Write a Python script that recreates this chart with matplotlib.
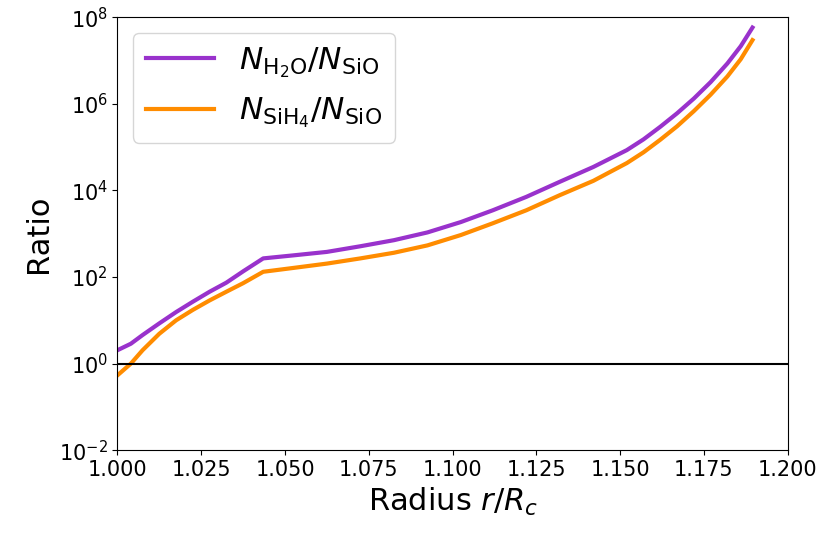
import matplotlib
matplotlib.use('Agg')
import matplotlib.pyplot as plt
import matplotlib.ticker as ticker

# radius r/R_c
radius = [1.000, 1.004, 1.0075, 1.0125, 1.0175, 1.0225, 1.0275, 1.0325, 1.0375,
          1.0435, 1.0525, 1.0625, 1.0725, 1.0825, 1.0925, 1.1025, 1.112, 1.122,
          1.132, 1.142, 1.152, 1.157, 1.162, 1.167, 1.172, 1.177, 1.182, 1.186, 1.1895]

# N_H2O / N_SiO
ratio_h2o = [2.04, 2.88, 4.57, 8.51, 15.5, 26.9, 45.7, 74.1, 135,
             269, 316, 380, 513, 708, 1070, 1860, 3470, 7080,
             15800, 34700, 85100, 1.51e5, 2.95e5, 6.03e5, 1.32e6, 3.16e6, 8.51e6, 2.14e7, 5.75e7]

# N_SiH4 / N_SiO
ratio_sih4 = [0.537, 1.00, 2.04, 4.90, 10.0, 17.4, 28.8, 45.7, 72.0,
              132, 162, 204, 269, 363, 537, 933, 1740, 3470,
              7760, 16600, 42700, 7.59e4, 1.48e5, 3.02e5, 6.76e5, 1.62e6, 4.27e6, 1.07e7, 2.95e7]

fig = plt.figure(figsize=(8.3, 5.36), dpi=100)
ax = fig.add_axes([0.1415, 0.160, 0.8075, 0.808])

ax.plot(radius, ratio_h2o, color='darkorchid', lw=3,
        label=r'$N_{\rm H_2O}/N_{\rm SiO}$')
ax.plot(radius, ratio_sih4, color='darkorange', lw=3,
        label=r'$N_{\rm SiH_4}/N_{\rm SiO}$')
ax.axhline(1.0, color='black', lw=1.5)

ax.set_yscale('log')
ax.set_xlim(1.0, 1.2)
ax.set_ylim(1e-2, 1e8)
ax.set_xticks([1.000, 1.025, 1.050, 1.075, 1.100, 1.125, 1.150, 1.175, 1.200])
ax.xaxis.set_major_formatter(ticker.FormatStrFormatter('%.3f'))
ax.yaxis.set_major_locator(ticker.FixedLocator([1e-2, 1e0, 1e2, 1e4, 1e6, 1e8]))
ax.yaxis.set_minor_locator(ticker.NullLocator())
ax.tick_params(labelsize=15)

ax.set_xlabel(r'Radius $r/R_c$', fontsize=22)
ax.set_ylabel('Ratio', fontsize=22)
ax.legend(loc='upper left', fontsize=22.5, handlelength=2.2)

fig.savefig('out.png', dpi=100)
